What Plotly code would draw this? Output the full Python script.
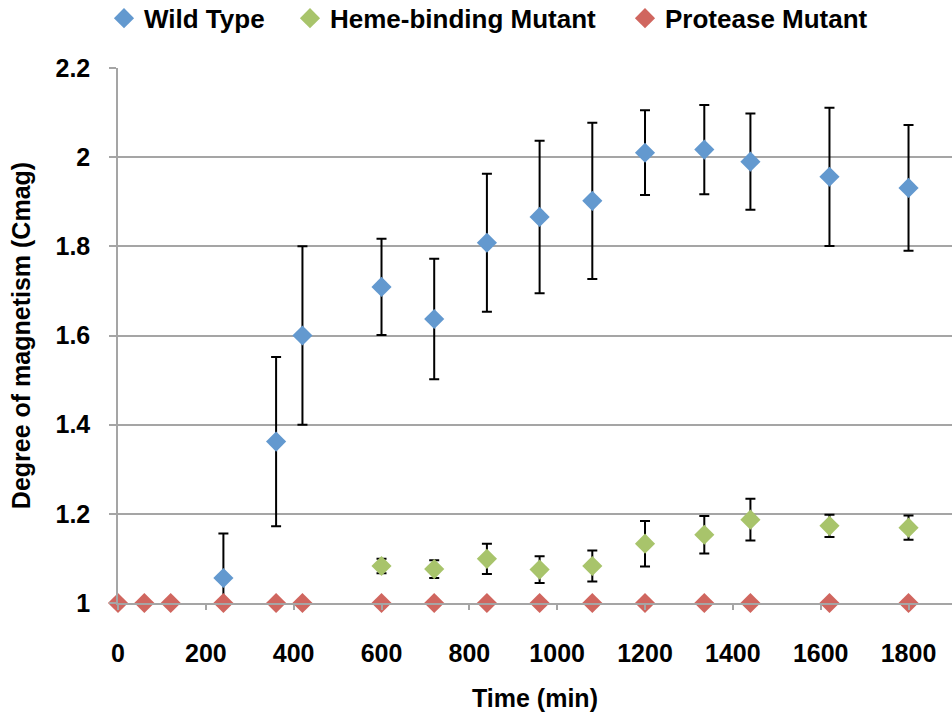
import plotly.graph_objects as go

# Sampling times (min)
wt_time = [240, 360, 420, 600, 720, 840, 960, 1080, 1200, 1335, 1440, 1620, 1800]
wt_cmag = [1.056, 1.362, 1.600, 1.709, 1.637, 1.808, 1.866, 1.902, 2.010, 2.017, 1.990, 1.956, 1.931]
wt_err = [0.100, 0.190, 0.200, 0.108, 0.135, 0.155, 0.171, 0.175, 0.095, 0.100, 0.108, 0.155, 0.141]

heme_time = [600, 720, 840, 960, 1080, 1200, 1335, 1440, 1620, 1800]
heme_cmag = [1.083, 1.076, 1.099, 1.075, 1.083, 1.133, 1.153, 1.187, 1.173, 1.169]
heme_err = [0.016, 0.020, 0.034, 0.030, 0.035, 0.051, 0.042, 0.047, 0.025, 0.027]

prot_time = [0, 60, 120, 240, 360, 420, 600, 720, 840, 960, 1080, 1200, 1335, 1440, 1620, 1800]
prot_cmag = [1, 1, 1, 1, 1, 1, 1, 1, 1, 1, 1, 1, 1, 1, 1, 1]

x_ticks = [0, 200, 400, 600, 800, 1000, 1200, 1400, 1600, 1800]
y_ticks = [1, 1.2, 1.4, 1.6, 1.8, 2, 2.2]

FONT = "Liberation Sans, Arial, sans-serif"
GRID = "#A5A5A5"

series = [
    ("Wild Type", wt_time, wt_cmag, wt_err, "#6399CF", "legend"),
    ("Heme-binding Mutant", heme_time, heme_cmag, heme_err, "#A8C46B", "legend2"),
    ("Protease Mutant", prot_time, prot_cmag, None, "#D0665F", "legend3"),
]

fig = go.Figure()
for name, xs, ys, err, color, leg in series:
    fig.add_trace(go.Scatter(
        x=xs, y=ys, name=name, mode="markers",
        marker=dict(symbol="diamond", size=15.5, color=color, line=dict(width=0)),
        error_y=(dict(type="data", array=err, visible=True, color="black",
                      thickness=2, width=5) if err is not None else None),
        cliponaxis=False, legend=leg,
    ))

legend_font = dict(family=FONT, size=26, color="black", weight="bold")
plot_w = 952 - 118


def legend_at(px):
    return dict(orientation="h", x=(px - 118) / plot_w, xanchor="left",
                y=1.093, yanchor="middle", font=legend_font,
                bgcolor="rgba(0,0,0,0)", borderwidth=0)


fig.update_layout(
    width=952, height=712,
    margin=dict(l=118, r=0, t=68, b=109, autoexpand=False),
    plot_bgcolor="white", paper_bgcolor="white",
    font=dict(family=FONT, size=25, color="black", weight="bold"),
    showlegend=True,
    legend=legend_at(104),
    legend2=legend_at(290),
    legend3=legend_at(625),
    xaxis=dict(
        range=[0, 1899], tickvals=x_ticks, ticks="outside", ticklen=5,
        tickcolor=GRID, tickwidth=1.5, showgrid=False, zeroline=False,
        showline=True, linecolor=GRID, linewidth=1.5,
        ticklabelstandoff=22,
        tickfont=dict(family=FONT, size=25, color="black", weight="bold"),
        title=dict(text="Time (min)", standoff=30,
                   font=dict(family=FONT, size=25, color="black", weight="bold")),
    ),
    yaxis=dict(
        range=[1, 2.2], tickvals=y_ticks, ticks="outside", ticklen=7,
        tickcolor=GRID, tickwidth=1.5, showgrid=True, gridcolor=GRID, gridwidth=1.5,
        zeroline=False, showline=True, linecolor=GRID, linewidth=1.5,
        ticklabelstandoff=14,
        tickfont=dict(family=FONT, size=25, color="black", weight="bold"),
        title=dict(text="Degree of magnetism (Cmag)", standoff=18,
                   font=dict(family=FONT, size=25, color="black", weight="bold")),
    ),
)

fig.write_html("out.html")
